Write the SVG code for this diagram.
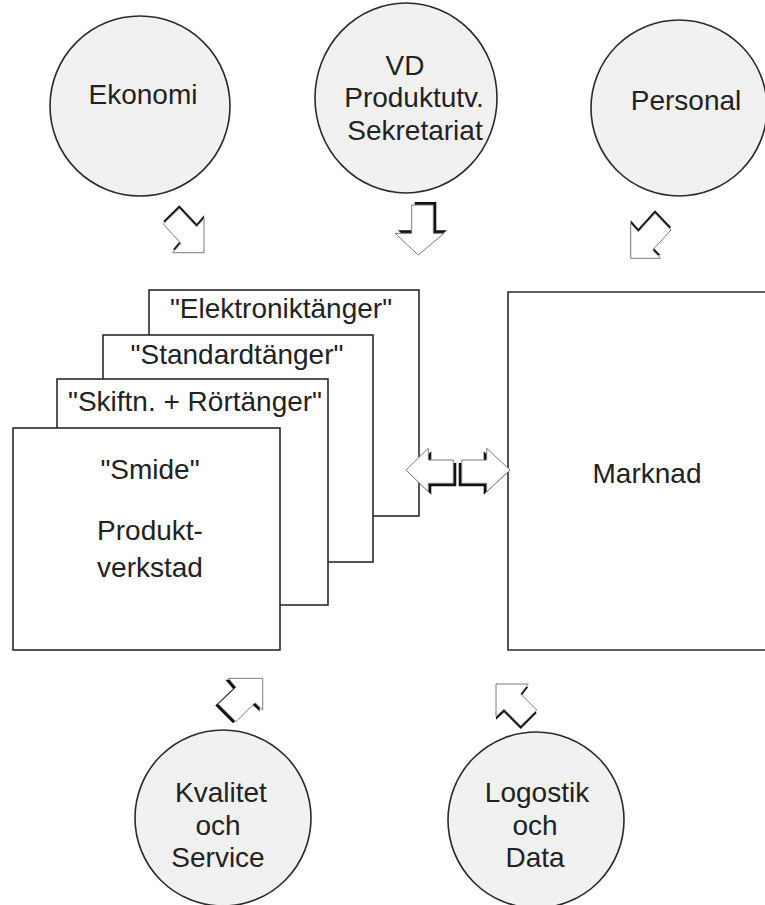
<svg xmlns="http://www.w3.org/2000/svg" xmlns:xlink="http://www.w3.org/1999/xlink" width="765" height="905" viewBox="0 0 765 905">
<style>
.bg{fill:#ffffff}
.circ{fill:#f1f1f1;stroke:#2a2a2a;stroke-width:1.6}
.box{fill:#ffffff;stroke:#2a2a2a;stroke-width:1.6}
.t{font-family:"Liberation Sans",Arial,Helvetica,sans-serif;font-size:28px;fill:#222;text-anchor:middle}
.shadow{fill:#111;stroke:none}
.arrow{fill:#ffffff;stroke:#7a7a7a;stroke-width:1;stroke-linejoin:miter}
</style>
<defs>
<polygon id="aEk" points="179.3,208.3 163.3,224 180.7,243.3 172.7,252.7 204,252.7 204,218.3 196.7,226.7"/>
<polygon id="aVD" points="411.7,205 433.3,205 433.3,233.3 444,233.3 418.3,255 395,233.3 411.7,233.3"/>
<polygon id="aPe" points="655,213.3 671,230 652.7,250 660.7,258.3 630.7,258.3 630.7,223.3 638.3,231.7"/>
<polygon id="aL" points="406,470 428.3,448.3 428.3,460 453.3,460 453.3,483.3 428.3,483.3 428.3,491.7"/>
<polygon id="aR" points="510,470 486.7,448.3 486.7,460 461.7,460 461.7,483.3 486.7,483.3 486.7,491.7"/>
<polygon id="aKv" points="262.7,678.3 262.7,710 255,702.7 236,721.7 218.3,704 236,687.3 228.3,678.3"/>
<polygon id="aLo" points="496,684 528.3,684 520.7,694 536.7,710 520.7,726 504,709.3 496,716.7"/>
</defs>
<rect class="bg" x="0" y="0" width="765" height="905"/>

<g id="ekonomi">
<circle class="circ" cx="140" cy="106" r="90"/>
<text class="t" x="143" y="104">Ekonomi</text>
</g>
<g id="vd">
<ellipse class="circ" cx="406" cy="98" rx="91" ry="95"/>
<text class="t" x="405" y="75">VD</text>
<text class="t" x="414" y="107">Produktutv.</text>
<text class="t" x="415" y="140">Sekretariat</text>
</g>
<g id="personal">
<circle class="circ" cx="679" cy="108" r="88"/>
<text class="t" x="686" y="110">Personal</text>
</g>

<g id="elektroniktanger">
<rect class="box" x="149" y="290" width="270" height="226"/>
<text class="t" x="281" y="318">"Elektroniktänger"</text>
</g>
<g id="standardtanger">
<rect class="box" x="103" y="335" width="270" height="227"/>
<text class="t" x="237" y="364">"Standardtänger"</text>
</g>
<g id="skiftn">
<rect class="box" x="57" y="379" width="271" height="226"/>
<text class="t" x="195" y="411">"Skiftn. + Rörtänger"</text>
</g>
<g id="smide">
<rect class="box" x="13" y="428" width="267" height="222"/>
<text class="t" x="150" y="479">"Smide"</text>
<text class="t" x="150" y="540">Produkt-</text>
<text class="t" x="150" y="577">verkstad</text>
</g>

<g id="marknad">
<path class="box" d="M767 292 H508 V650 H767"/>
<text class="t" x="647" y="483">Marknad</text>
</g>

<g id="kvalitet">
<circle class="circ" cx="223" cy="818" r="88"/>
<text class="t" x="221" y="802">Kvalitet</text>
<text class="t" x="218" y="835">och</text>
<text class="t" x="218" y="867">Service</text>
</g>
<g id="logostik">
<circle class="circ" cx="536" cy="820" r="88"/>
<text class="t" x="537" y="802">Logostik</text>
<text class="t" x="535" y="835">och</text>
<text class="t" x="535" y="867">Data</text>
</g>

<g id="connectors">
<use xlink:href="#aEk" class="shadow" transform="translate(0,-3)"/>
<use xlink:href="#aEk" class="arrow"/>
<use xlink:href="#aVD" class="shadow" transform="translate(3,-3)"/>
<use xlink:href="#aVD" class="arrow"/>
<use xlink:href="#aPe" class="shadow" transform="translate(0,-3)"/>
<use xlink:href="#aPe" class="arrow"/>
<use xlink:href="#aL" class="shadow" transform="translate(3,3)"/>
<use xlink:href="#aL" class="arrow"/>
<use xlink:href="#aR" class="shadow" transform="translate(-3,3)"/>
<use xlink:href="#aR" class="arrow"/>
<use xlink:href="#aKv" class="shadow" transform="translate(-3,1.5)"/>
<use xlink:href="#aKv" class="arrow"/>
<use xlink:href="#aLo" class="shadow" transform="translate(0,3)"/>
<use xlink:href="#aLo" class="arrow"/>
</g>
</svg>
